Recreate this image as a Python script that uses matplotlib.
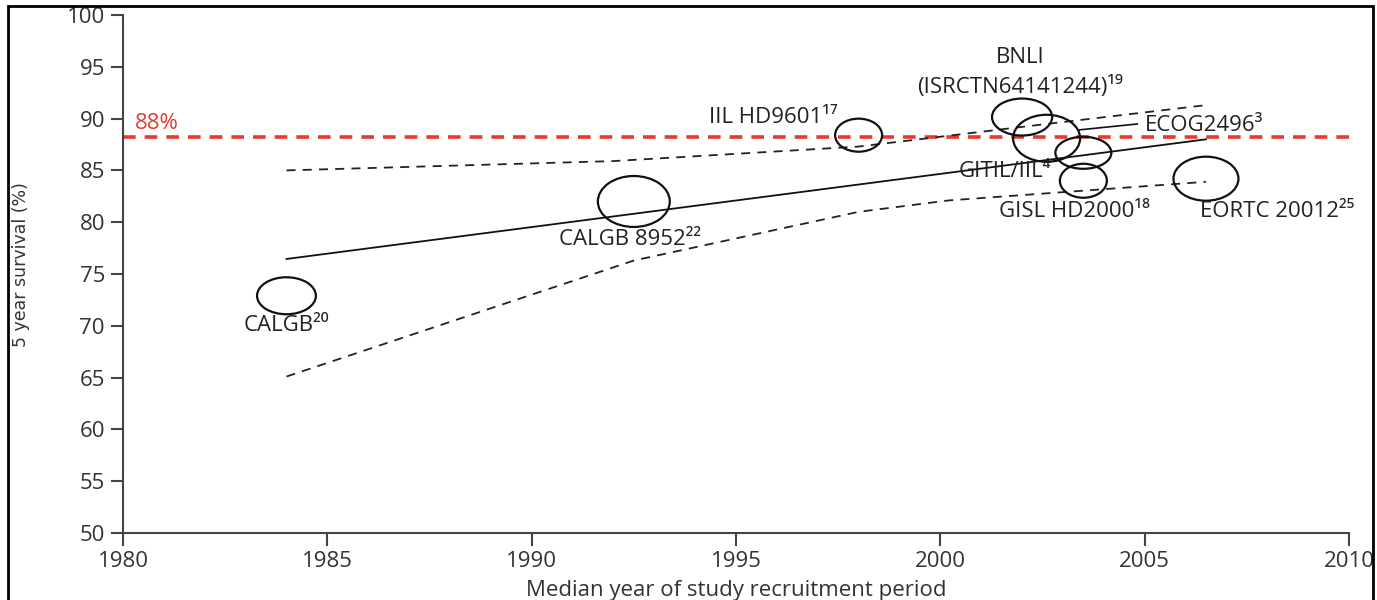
import matplotlib
matplotlib.use('Agg')
import matplotlib.pyplot as plt
from matplotlib.patches import Ellipse, Rectangle

plt.rcParams['font.family'] = ['Open Sans', 'DejaVu Sans']

# studi: anno mediano di reclutamento e sopravvivenza a 5 anni
studi = ['CALGB', 'CALGB 8952', 'IIL HD9601', 'BNLI', 'ECOG2496', 'GITIL/IIL', 'GISL HD2000', 'EORTC 20012']
anno = [1984.0, 1992.5, 1998.0, 2002.0, 2002.6, 2003.5, 2003.5, 2006.5]
sopravv = [72.9, 82.0, 88.4, 90.15, 88.1, 86.7, 84.0, 84.2]
# dimensione dei cerchi (larghezza in anni, altezza in %)
larg = [1.44, 1.76, 1.15, 1.47, 1.64, 1.37, 1.15, 1.59]
alt = [3.57, 4.92, 3.19, 3.57, 4.54, 3.09, 3.28, 4.25]

# retta di regressione e bande di confidenza
reg_x = [1984.0, 2006.5]
reg_y = [76.45, 88.0]
ci_x = [1984.0, 1992.0, 1998.0, 2002.0, 2006.5]
ci_sup = [85.0, 85.9, 87.3, 89.2, 91.3]
ci_x_inf = [1984.0, 1992.5, 1998.0, 2000.2, 2006.5]
ci_inf = [65.1, 76.3, 81.0, 82.1, 83.9]
soglia = 88.2

fig = plt.figure(figsize=(13.77, 6.0), dpi=100)
ax = fig.add_axes([123/1377, 1-533/600, (1349-123)/1377, (533-15)/600])

ax.plot([1980, 2010], [soglia, soglia], color='#e8392e', lw=2.6, dashes=(3.5, 2.5), zorder=1)
ax.text(1980.3, 89.5, '88%', color='#e8392e', fontsize=16, va='center', ha='left')

ax.plot(reg_x, reg_y, color='#111111', lw=1.3)
ax.plot(ci_x, ci_sup, color='#222222', lw=1.3, dashes=(5, 4))
ax.plot(ci_x_inf, ci_inf, color='#222222', lw=1.3, dashes=(5, 4))

for x, y, w, h in zip(anno, sopravv, larg, alt):
    ax.add_patch(Ellipse((x, y), w, h, fill=False, ec='#111111', lw=1.6, zorder=3))

# linea di richiamo per ECOG2496
ax.plot([2003.37, 2004.82], [88.9, 89.48], color='#111111', lw=1.2)

fs = 16
c = '#222222'
ax.text(1984.0, 70.0, 'CALGB²⁰', fontsize=fs, ha='center', va='center', color=c)
ax.text(1992.4, 78.3, 'CALGB 8952²²', fontsize=fs, ha='center', va='center', color=c)
ax.text(1997.5, 90.15, 'IIL HD9601¹⁷', fontsize=fs, ha='right', va='center', color=c)
ax.text(2001.95, 95.85, 'BNLI', fontsize=fs, ha='center', va='center', color=c)
ax.text(2001.95, 93.05, '(ISRCTN64141244)¹⁹', fontsize=fs, ha='center', va='center', color=c)
ax.text(2005.0, 89.3, 'ECOG2496³', fontsize=fs, ha='left', va='center', color=c)
ax.text(2002.7, 84.85, 'GITIL/IIL⁴', fontsize=fs, ha='right', va='center', color=c)
ax.text(2001.43, 81.0, 'GISL HD2000¹⁸', fontsize=fs, ha='left', va='center', color=c)
ax.text(2006.35, 81.0, 'EORTC 20012²⁵', fontsize=fs, ha='left', va='center', color=c)

ax.set_xlim(1980, 2010)
ax.set_ylim(50, 100)
ax.set_xticks(range(1980, 2011, 5))
ax.set_yticks(range(50, 101, 5))
for s in ['top', 'right']:
    ax.spines[s].set_visible(False)
for s in ['left', 'bottom']:
    ax.spines[s].set_color('#444444')
    ax.spines[s].set_linewidth(1.5)
ax.tick_params(direction='out', length=9, width=1.5, color='#444444',
               labelsize=16, labelcolor='#333333', pad=4)

ax.set_xlabel('Median year of study recruitment period', fontsize=16, color='#333333', labelpad=6)
ax.set_ylabel('5 year survival (%)', fontsize=12.5, color='#333333',
              family=['Liberation Sans Narrow', 'DejaVu Sans'])
ax.yaxis.set_label_coords(-0.0755, 0.519)

# cornice esterna
fig.patches.append(Rectangle((8/1377, -0.05), (1373-8)/1377, 1.05-6/600,
                             transform=fig.transFigure, fill=False, ec='black', lw=2))

fig.savefig('out.png', dpi=100)
